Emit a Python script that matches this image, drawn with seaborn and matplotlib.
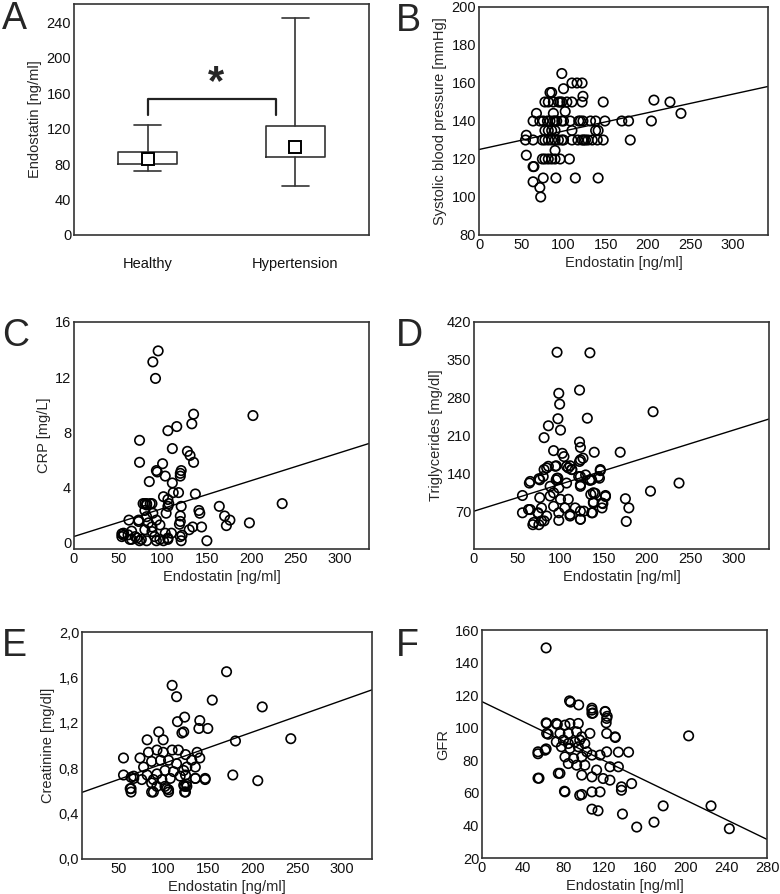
#!/usr/bin/env python3
# endostatin panels A-F

import matplotlib
matplotlib.use('Agg')
import matplotlib.pyplot as plt
import seaborn as sns

# Data ========================================================================

groups = ['Healthy', 'Hypertension']
box_low = [72, 55]
box_q1 = [80, 88]
box_mean = [86, 99]
box_q3 = [94, 123]
box_high = [124, 245]

b_x = [98, 84, 86, 100, 110, 116, 122, 123,
       78, 82, 88, 94, 96, 98, 104, 110, 122, 147, 207, 226,
       102, 68, 88, 239,
       64, 72, 76, 81, 84, 88, 90, 92, 98, 100, 108, 118, 120, 123, 132, 138, 149, 169, 177, 204,
       78, 82, 86, 90, 110, 138, 141,
       55, 64, 75, 78, 82, 86, 90, 94, 98, 100, 110, 117, 122, 124, 126, 129, 134, 140, 147, 179,
       56, 90,
       75, 78, 82, 86, 90, 96, 107,
       56, 64, 65,
       76, 91, 114, 141,
       64, 72, 73]
b_y = [165, 155, 155, 157, 160, 160, 160, 153,
       150, 150, 150, 150, 150, 150, 150, 150, 150, 150, 151, 150,
       145, 144, 144, 144,
       140, 140, 140, 140, 140, 140, 140, 140, 140, 140, 140, 140, 140, 140, 140, 140, 140, 140, 140, 140,
       135, 135, 135, 135, 135, 135, 135,
       130, 130, 130, 130, 130, 130, 130, 130, 130, 130, 130, 130, 130, 130, 130, 130, 130, 130, 130, 130,
       132.5, 124.5,
       120, 120, 120, 120, 120, 120, 120,
       122, 116, 116,
       110, 110, 110, 110,
       108, 105, 100]

c_x = [95, 89, 92, 135, 133, 116, 106, 202, 74, 111, 128, 131, 135, 74, 100, 93, 94,
       103, 120, 121, 120, 85, 111, 101, 106, 112, 118, 137, 78, 82, 86, 88, 107, 106,
       121, 164, 235, 141, 142, 170, 176, 172, 198, 62, 73, 120, 120, 119, 144, 134,
       130, 150, 54, 56, 65, 63, 71, 120, 121, 122, 106,
       73, 82, 84, 88, 93, 97, 80, 88, 91, 97, 103, 76, 69, 61, 56, 54, 65, 74, 82,
       93, 101, 106, 110, 80, 82, 104, 80, 89]
c_y = [13.9, 13.1, 11.9, 9.3, 8.6, 8.4, 8.1, 9.2, 7.4, 6.8, 6.6, 6.3, 5.8, 5.8, 5.7, 5.2, 5.1,
       4.8, 5.0, 5.2, 4.8, 4.4, 4.3, 3.3, 3.1, 3.6, 3.6, 3.5, 2.8, 2.8, 2.8, 2.8, 2.8, 2.6,
       2.6, 2.6, 2.8, 2.3, 2.1, 1.9, 1.6, 1.2, 1.4, 1.6, 1.6, 1.9, 1.5, 1.3, 1.1, 1.1,
       0.9, 0.1, 0.6, 0.5, 0.8, 0.2, 0.3, 0.4, 0.1, 0.5, 0.3,
       1.5, 1.85, 1.4, 1.1, 1.6, 1.25, 0.9, 0.77, 0.4, 0.2, 0.65, 0.2, 0.4, 0.53, 0.65, 0.4, 0.2, 0.1, 0.1,
       0.1, 0.1, 0.2, 0.65, 2.8, 2.7, 2.1, 2.3, 2.1]

d_x = [96, 134, 122, 98, 99, 97, 131, 207, 86, 100, 81, 122, 123, 92, 102, 104, 139, 169,
       126, 122, 81, 86, 95, 107, 113, 111, 146, 97, 95, 129, 121, 123, 134, 136, 145,
       64, 75, 237, 204, 56, 135, 140, 152, 138, 175, 179, 176, 149, 148, 123, 137, 111,
       98, 68, 75, 81, 56, 65, 74,
       84, 94, 109, 113, 123, 80, 96, 107, 123, 123, 134, 144, 146, 88, 98, 76, 88, 100,
       109, 78, 92, 105, 117, 123, 127, 138, 138, 148, 152, 63, 74, 84, 98, 111, 123, 136,
       69, 78, 65, 76, 92]
d_y = [364, 363, 294, 288, 268, 241, 242, 254, 228, 220, 206, 198, 188, 182, 177, 171, 179, 179,
       168, 162, 147, 153, 154, 153, 147, 154, 145, 131, 128, 137, 134, 116, 127, 128, 131,
       122, 130, 122, 107, 99, 101, 103, 99, 87, 93, 76, 51, 84, 76, 55, 67, 61,
       53, 45, 45, 52, 67, 73, 66,
       150, 153, 150, 147, 165, 134, 131, 122, 134, 119, 128, 134, 147, 116, 113, 95, 98, 92,
       92, 76, 79, 76, 76, 70, 70, 85, 104, 85, 97, 73, 67, 61, 67, 64, 55, 67,
       49, 52, 125, 128, 104]

e_x = [171, 110, 115, 155, 211, 124, 116, 141, 140, 150, 121, 123, 181, 243,
       64, 67, 64, 64, 178, 206, 147, 136, 87, 124, 106, 102, 124, 126,
       74, 83.5, 93, 100, 110, 117, 125, 138, 141, 78, 87, 97, 106, 115, 126.5, 136,
       82, 93, 102, 111.5, 123, 132, 67, 76, 89, 98.5, 108, 119, 125, 87, 93, 104,
       123, 126.5, 136, 147, 63, 89, 106, 125, 82, 95, 100, 55.5, 55.5]
e_y = [1.65, 1.53, 1.43, 1.40, 1.34, 1.25, 1.21, 1.22, 1.15, 1.15, 1.11, 1.12, 1.04, 1.06,
       0.72, 0.71, 0.62, 0.59, 0.74, 0.69, 0.70, 0.71, 0.59, 0.59, 0.61, 0.64, 0.64, 0.66,
       0.89, 0.94, 0.96, 0.94, 0.96, 0.96, 0.92, 0.94, 0.89, 0.81, 0.86, 0.87, 0.87, 0.84, 0.81, 0.81,
       0.74, 0.75, 0.78, 0.77, 0.78, 0.87, 0.73, 0.70, 0.70, 0.70, 0.71, 0.73, 0.74, 0.67, 0.64, 0.62,
       0.65, 0.64, 0.71, 0.71, 0.62, 0.59, 0.59, 0.59, 1.05, 1.12, 1.05, 0.89, 0.74]

f_x = [63, 86, 87, 95, 108, 109, 121, 123, 122, 203, 131, 144, 134, 56, 75, 81, 108, 114,
       138, 152, 169, 178, 225, 243, 98, 63, 65, 63, 55, 74,
       73, 81.5, 86.4, 76.6, 84.8, 93, 98, 106, 73, 80, 84.8, 91.4, 96, 101, 78, 86.4, 94.6,
       103, 81.5, 90, 98, 108, 84.8, 93, 101, 116, 122.5, 130.7, 122.5, 108, 108, 121, 122.5,
       94.6, 63.5, 63.5, 55, 62, 125.7, 134, 112.6, 119, 125.7, 137, 137, 147, 98, 108, 96,
       108, 116, 81.5, 76.6, 55]
f_y = [149, 116.5, 115.7, 114, 112, 109, 110, 107, 103, 95, 94, 85, 85, 69, 72, 61, 50, 49,
       47, 39, 42, 52, 52, 38, 59, 103, 96, 87, 84, 102,
       102.6, 101.6, 102.6, 96.5, 96.5, 97.5, 94.4, 96.5, 91.3, 92.4, 90.3, 91.3, 92.4, 90.3, 88.3, 87.3, 88.3,
       85.2, 82.1, 81.1, 82.1, 83.2, 78, 77, 77, 83.2, 85.2, 94.4, 96.5, 108.8, 110.8, 109.8, 105.7,
       102.6, 102.6, 96.5, 85.2, 86.2, 76, 76, 74, 68.8, 67.8, 63.7, 61.6, 65.7, 70.9, 69.8, 58.5,
       60.6, 60.6, 60.6, 72, 69]

# fitted lines: (intercept, slope)
b_fit = (125, 0.097)
c_fit = (0.41, 0.0203)
d_fit = (70, 0.50)
e_fit = (0.562, 0.00278)
f_fit = (116, -0.302)

x_label = 'Endostatin [ng/ml]'

# Plot ========================================================================

sns.set_style('white')
plt.rcParams['font.family'] = ['Liberation Sans', 'DejaVu Sans']
plt.rcParams['font.size'] = 10.5

W, H = 780, 894
fig = plt.figure(figsize=(W / 100, H / 100), dpi=100)


def make_axes(l, t, r, b):
    ax = fig.add_axes([l / W, 1 - b / H, (r - l) / W, (b - t) / H])
    for s in ax.spines.values():
        s.set_color('#333333')
        s.set_linewidth(1.2)
    ax.tick_params(length=0, pad=2, labelsize=10.5, colors='#111111')
    return ax


def letter(x, y, s):
    fig.text(x / W, 1 - y / H, s, fontsize=27, va='top', ha='left')


def scatter_panel(ax, x, y, fit, xlim, ylim, xticks, yticks, ylabel, yticklabels=None):
    sns.scatterplot(x=x, y=y, ax=ax, marker='o', s=46,
                    facecolor='none', edgecolor='black', linewidth=1.2, zorder=3)
    ax.axline((0, fit[0]), slope=fit[1], color='black', lw=1.0, zorder=2)
    ax.set_xlim(*xlim)
    ax.set_ylim(*ylim)
    ax.set_xticks(xticks)
    ax.set_yticks(yticks)
    if yticklabels is not None:
        ax.set_yticklabels(yticklabels)
    ax.set_xlabel(x_label, fontsize=10.5, labelpad=3)
    ax.set_ylabel(ylabel, fontsize=10.5, labelpad=3)


# A: box panel
ax = make_axes(74, 4, 369, 235)
stats = []
for i, g in enumerate(groups):
    stats.append(dict(label=g, whislo=box_low[i], q1=box_q1[i], med=box_mean[i],
                      q3=box_q3[i], whishi=box_high[i], mean=box_mean[i], fliers=[]))
ax.bxp(stats, positions=[0, 1], widths=0.4, capwidths=0.18, showmeans=True,
       boxprops=dict(color='#333333', lw=1.2),
       whiskerprops=dict(color='#333333', lw=1.2),
       capprops=dict(color='#333333', lw=1.2),
       medianprops=dict(visible=False),
       meanprops=dict(marker='s', markersize=8, markerfacecolor='white',
                      markeredgecolor='black', markeredgewidth=1.4))
ax.plot([0, 0, 0.87, 0.87], [136, 154, 154, 136], color='#222222', lw=1.6)
ax.text(0.46, 172, '*', fontsize=30, fontweight='bold', ha='center', va='center')
ax.set_xlim(-0.5, 1.5)
ax.set_ylim(0, 261)
ax.set_yticks([0, 40, 80, 120, 160, 200, 240])
ax.set_xticks([0, 1])
ax.set_xticklabels(groups)
ax.tick_params(axis='x', pad=16)
ax.set_ylabel('Endostatin [ng/ml]', fontsize=10.5, labelpad=3)
letter(2, 1, 'A')

# B
ax = make_axes(479, 7, 768, 235)
scatter_panel(ax, b_x, b_y, b_fit, (0, 342), (80, 200), range(0, 301, 50),
              range(80, 201, 20), 'Systolic blood pressure [mmHg]')
letter(396, 3, 'B')

# C
ax = make_axes(74, 322, 369, 549)
scatter_panel(ax, c_x, c_y, c_fit, (0, 333), (-0.5, 16), range(0, 301, 50),
              [0, 4, 8, 12, 16], 'CRP [mg/L]')
letter(2, 318, 'C')

# D
ax = make_axes(474, 322, 769, 549)
scatter_panel(ax, d_x, d_y, d_fit, (0, 341), (0, 420), range(0, 301, 50),
              range(70, 421, 70), 'Triglycerides [mg/dl]')
letter(396, 318, 'D')

# E
ax = make_axes(82, 632, 372, 859)
scatter_panel(ax, e_x, e_y, e_fit, (9, 334), (0, 2.0), range(50, 301, 50),
              [0, 0.4, 0.8, 1.2, 1.6, 2.0], 'Creatinine [mg/dl]',
              ['0,0', '0,4', '0,8', '1,2', '1,6', '2,0'])
letter(2, 628, 'E')

# F
ax = make_axes(482, 630, 767, 858)
scatter_panel(ax, f_x, f_y, f_fit, (0, 280), (20, 160), range(0, 281, 40),
              range(20, 161, 20), 'GFR')
letter(396, 628, 'F')

fig.savefig('out.png', dpi=100)
